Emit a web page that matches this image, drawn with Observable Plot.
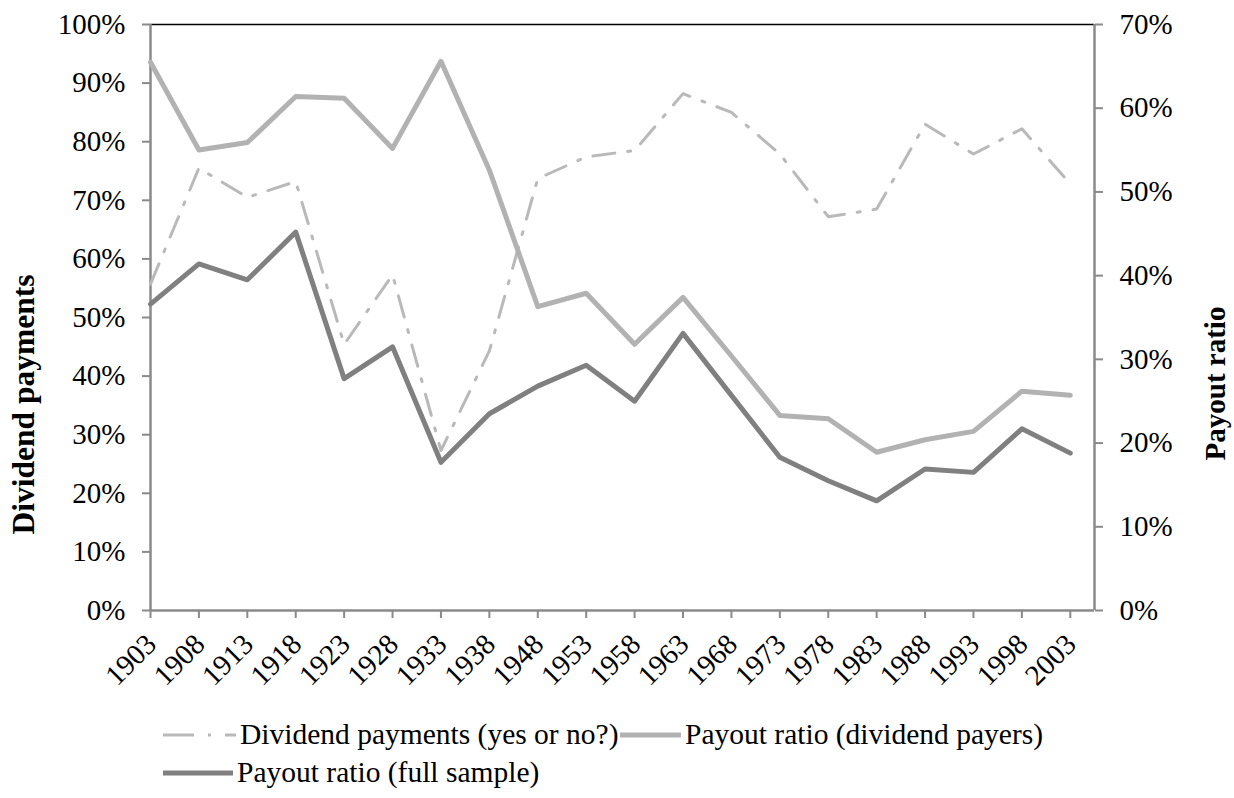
<!DOCTYPE html>
<html>
<head>
<meta charset="utf-8">
<script src="https://cdn.jsdelivr.net/npm/d3@7"></script>
<script src="https://cdn.jsdelivr.net/npm/@observablehq/plot@0.6"></script>
<style>
  body { margin: 0; background: white; }
  #wrap { position: relative; width: 1234px; height: 798px; font-family: 'Liberation Serif', 'Times New Roman', serif; }
  .leg { position: absolute; display: flex; align-items: center; font-size: 29.5px; line-height: 1; white-space: nowrap; color: black; }
  .leg svg { display: block; margin-right: 4px; }
</style>
</head>
<body>
<div id="wrap">
  <div id="chart"></div>
  <div id="legend"></div>
</div>
<script>
const years = ["1903","1908","1913","1918","1923","1928","1933","1938","1948","1953","1958","1963","1968","1973","1978","1983","1988","1993","1998","2003"];
// Left axis (% of firms paying dividends)
const dividendPayments = [55.7,75.5,70.5,73.2,45.4,57.3,27.3,44.3,73.7,77.4,78.5,88.2,85.0,77.9,67.2,68.5,83.0,77.9,82.2,72.8];
// Right axis (payout ratio, %)
const payoutPayers = [65.5,55.0,55.9,61.4,61.2,55.2,65.6,52.6,36.3,37.9,31.8,37.4,30.4,23.3,22.9,18.9,20.4,21.4,26.2,25.7];
const payoutFull = [36.6,41.4,39.5,45.2,27.7,31.5,17.7,23.5,26.8,29.3,25.0,33.1,25.7,18.3,15.5,13.1,16.9,16.5,21.7,18.8];
const leftTicks = [0,10,20,30,40,50,60,70,80,90,100];
const rightTicks = [0,10,20,30,40,50,60,70];
const seriesNames = ["Dividend payments (yes or no?)", "Payout ratio (dividend payers)", "Payout ratio (full sample)"];

const RIGHT_MAX = 70, LEFT_MAX = 100;
const toLeft = v => v * LEFT_MAX / RIGHT_MAX;

const divData = years.map((y, i) => ({i, v: dividendPayments[i]}));
const payersData = years.map((y, i) => ({i, v: toLeft(payoutPayers[i])}));
const fullData = years.map((y, i) => ({i, v: toLeft(payoutFull[i])}));

const colDiv = "#b9b9b9", colPayers = "#b2b2b2", colFull = "#808080", axisCol = "#8a8a8a";
const dash = "22,13,3,13";

const chart = Plot.plot({
  width: 1234, height: 700,
  marginTop: 24, marginBottom: 90, marginLeft: 150, marginRight: 140,
  style: {fontFamily: "'Liberation Serif', 'Times New Roman', serif", fontSize: "29px", color: "black", background: "white", overflow: "visible"},
  x: {type: "linear", domain: [0, years.length - 0.5], axis: null},
  y: {domain: [0, LEFT_MAX], axis: null},
  marks: [
    Plot.axisY(leftTicks, {anchor: "left", tickSize: 8, tickPadding: 17, stroke: axisCol, strokeWidth: 2, fill: "black", fontSize: 29, tickFormat: d => d + "%", label: null}),
    Plot.axisY(rightTicks.map(toLeft), {anchor: "right", tickSize: 8, tickPadding: 17, stroke: axisCol, strokeWidth: 2, fill: "black", fontSize: 29, tickFormat: d => Math.round(d * RIGHT_MAX / LEFT_MAX) + "%", label: null}),
    Plot.axisX(d3.range(years.length), {anchor: "bottom", tickSize: 8, text: null, stroke: axisCol, strokeWidth: 2, label: null}),
    Plot.text(d3.range(years.length), {x: d => d, frameAnchor: "bottom", text: i => years[i], rotate: -45, textAnchor: "end", lineAnchor: "middle", dx: 1, dy: 29, fontSize: 29, fill: "black"}),
    Plot.ruleY([LEFT_MAX], {stroke: "black", strokeWidth: 1.5}),
    Plot.ruleY([0], {stroke: axisCol, strokeWidth: 2.5}),
    Plot.ruleX([0, years.length - 0.5], {stroke: axisCol, strokeWidth: 2.5}),
    Plot.line(divData, {x: "i", y: "v", stroke: colDiv, strokeWidth: 3, strokeDasharray: dash}),
    Plot.line(payersData, {x: "i", y: "v", stroke: colPayers, strokeWidth: 5, strokeLinejoin: "round"}),
    Plot.line(fullData, {x: "i", y: "v", stroke: colFull, strokeWidth: 5, strokeLinejoin: "round"}),
    Plot.text(["Dividend payments"], {text: d => d, frameAnchor: "left", textAnchor: "middle", dx: -127, dy: 87, rotate: -90, fontWeight: "bold", fontSize: 31.5, fill: "black"}),
    Plot.text(["Payout ratio"], {text: d => d, frameAnchor: "right", textAnchor: "middle", dx: 121, dy: 66, rotate: -90, fontWeight: "bold", fontSize: 29, fill: "black"})
  ]
});
document.getElementById("chart").appendChild(chart);

// Legend
const legend = document.getElementById("legend");
const items = [
  {name: seriesNames[0], color: colDiv, w: 3, dash: "31,14,3,14", sw: 73, left: 163, top: 735},
  {name: seriesNames[1], color: colPayers, w: 5, dash: null, sw: 61, left: 620, top: 735},
  {name: seriesNames[2], color: colFull, w: 5, dash: null, sw: 70, left: 163, top: 773}
];
items.forEach(it => {
  const d = document.createElement("div");
  d.className = "leg";
  d.style.left = it.left + "px";
  d.style.top = (it.top - 16) + "px";
  d.style.height = "32px";
  d.innerHTML = `<svg width="${it.sw}" height="10"><line x1="0" y1="5" x2="${it.sw}" y2="5" stroke="${it.color}" stroke-width="${it.w}" ${it.dash ? `stroke-dasharray="${it.dash}"` : ""}/></svg><span>${it.name}</span>`;
  legend.appendChild(d);
});
</script>
</body>
</html>
